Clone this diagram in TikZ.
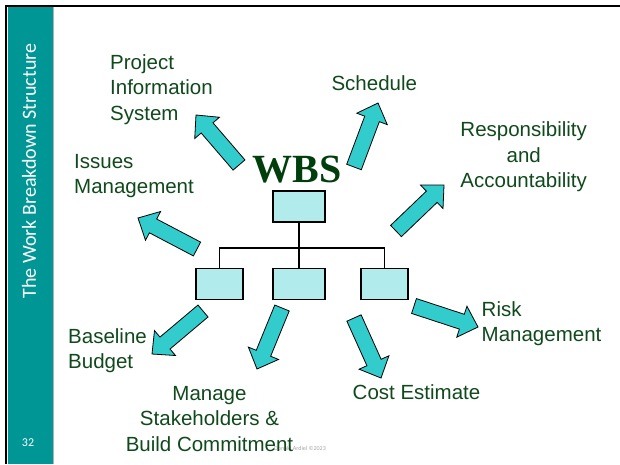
\documentclass[tikz,border=0pt]{standalone}
\usepackage{fontspec}
\setmainfont{Liberation Sans}
\newfontfamily\wbsfont{Liberation Serif}
\newfontfamily\sidefont{Carlito}
\usetikzlibrary{calc}
\definecolor{sideteal}{RGB}{0,150,150}
\definecolor{arrowfill}{RGB}{51,204,204}
\definecolor{boxfill}{RGB}{178,235,235}
\definecolor{labelgreen}{RGB}{16,74,28}
\definecolor{wbsgreen}{RGB}{0,62,12}
\tikzset{
  wbsbox/.style={draw=black, line width=1.4pt, fill=boxfill, minimum height=31pt, inner sep=0pt},
  barrow/.style={draw=black, line width=0.8pt, fill=arrowfill, line join=miter},
  lbl/.style={text=labelgreen, font=\fontsize{20.5}{25.3}\selectfont, inner sep=0pt},
  bus/.style={draw=black, line width=1.1pt}
}
\newcommand\blockarrow[2]{%
  \coordinate (tmpH) at ($(#2)!17pt!(#1)$);
  \draw[barrow] ($(#1)!7.8pt!90:(#2)$) -- ($(tmpH)!7.8pt!90:(#2)$) -- ($(tmpH)!16.3pt!90:(#2)$) -- (#2)
    -- ($(tmpH)!16.3pt!-90:(#2)$) -- ($(tmpH)!7.8pt!-90:(#2)$) -- ($(#1)!7.8pt!-90:(#2)$) -- cycle;
}
\begin{document}
\begin{tikzpicture}[x=1pt,y=-1pt]
\useasboundingbox (0,0) rectangle (620,464);
\fill[white] (0,0) rectangle (620,464);
% sidebar
\fill[sideteal] (7.5,7) rectangle (53,464);
\draw[gray!60, line width=0.6pt] (53.3,7) -- (53.3,464);
\draw[black, line width=2.4pt] (5,6.2) -- (620,6.2);
\draw[black, line width=2.4pt] (6.2,5) -- (6.2,464);
\node[rotate=90, text=white, font=\sidefont\fontsize{20}{24}\selectfont, inner sep=0pt] (side) at (29,171) {The Work Breakdown Structure};
\node[text=white, font=\sidefont\fontsize{12}{14}\selectfont, inner sep=0pt] (pg) at (28,443) {32};

% footer
\node[text=gray!70, font=\sidefont\fontsize{6}{7}\selectfont, inner sep=0pt, anchor=base] (foot) at (300,450) {Donald Ardiel ©2023};

% WBS title
\node[text=wbsgreen, font=\wbsfont\bfseries\fontsize{40}{44}\selectfont, inner sep=0pt, anchor=base] (wbs) at (297,182) {WBS};

% boxes
\node[wbsbox, minimum width=52pt] (top) at (299,206.5) {};
\node[wbsbox, minimum width=47pt] (b1) at (219.3,283.8) {};
\node[wbsbox, minimum width=52pt] (b2) at (299,283.8) {};
\node[wbsbox, minimum width=47pt] (b3) at (384.5,283.8) {};
\coordinate (busy) at (0,248);
\draw[bus] (top.south) -- (top.south |- busy);
\draw[bus] (b1.north) -- (b1.north |- busy) -- (b3.north |- busy) -- (b3.north);
\draw[bus] (b2.north) -- (b2.north |- busy);

% arrows
\coordinate (a1t) at (239,165); \coordinate (a1h) at (196,115);
\coordinate (a2t) at (354,167); \coordinate (a2h) at (378,103);
\coordinate (a3t) at (396,231); \coordinate (a3h) at (444,185);
\coordinate (a4t) at (197,249); \coordinate (a4h) at (138,218);
\coordinate (a5t) at (203,311); \coordinate (a5h) at (152,354);
\coordinate (a6t) at (282,308); \coordinate (a6h) at (257,369);
\coordinate (a7t) at (354,318); \coordinate (a7h) at (381,378);
\coordinate (a8t) at (414,306); \coordinate (a8h) at (478,327);
\blockarrow{a1t}{a1h}
\blockarrow{a2t}{a2h}
\blockarrow{a3t}{a3h}
\blockarrow{a4t}{a4h}
\blockarrow{a5t}{a5h}
\blockarrow{a6t}{a6h}
\blockarrow{a7t}{a7h}
\blockarrow{a8t}{a8h}

% labels (base anchor = baseline of the last line)
\node[lbl, align=left, anchor=base west] (pis) at (110,120) {Project\\Information\\System};
\node[lbl, anchor=base] (sched) at (374.3,90.7) {Schedule};
\node[lbl, align=center, anchor=base] (resp) at (523.7,187.3) {Responsibility\\and\\Accountability};
\node[lbl, align=left, anchor=base west] (issues) at (74,193.3) {Issues\\Management};
\node[lbl, align=left, anchor=base west] (risk) at (481.5,341.7) {Risk\\Management};
\node[lbl, align=left, anchor=base west] (base) at (68,368.3) {Baseline\\Budget};
\node[lbl, align=center, anchor=base] (manage) at (209.5,451) {Manage\\Stakeholders \&\\Build Commitment};
\node[lbl, anchor=base] (cost) at (416.5,399.3) {Cost Estimate};
\end{tikzpicture}
\end{document}
